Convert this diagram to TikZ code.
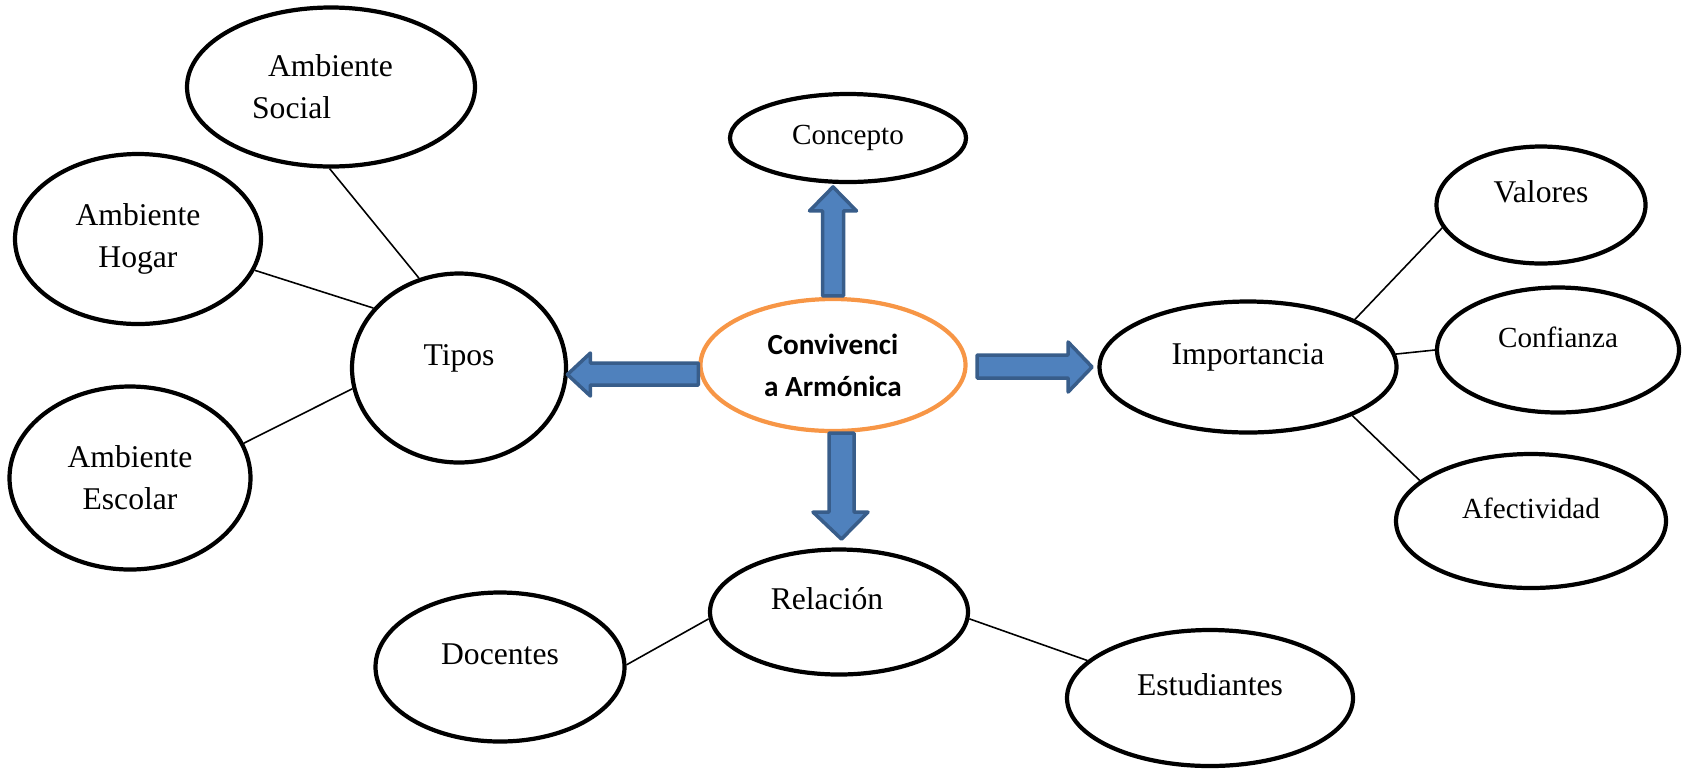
\documentclass[tikz,border=0pt]{standalone}
\usepackage{fontspec}
\setmainfont{Liberation Serif}
\newfontfamily\calibri{Carlito}
\usetikzlibrary{shapes.geometric}

\definecolor{arrowfill}{HTML}{4F81BD}
\definecolor{arrowline}{HTML}{385D8A}
\definecolor{hubline}{HTML}{F79646}

\begin{document}
\begin{tikzpicture}[
  bubble/.style={ellipse, draw=black, line width=1.2pt, inner sep=0pt,
                 font=\fontsize{9}{11.9}\selectfont},
  smalltext/.style={font=\fontsize{8.3}{11.9}\selectfont},
  toptext/.style={text height=0.21cm, text depth=0.27cm},
  link/.style={draw=black, line width=0.45pt},
  blockarrow/.style={fill=arrowfill, draw=arrowline, line width=1pt, line join=round}
]
  \useasboundingbox (0,0) rectangle (16.86,-7.70);

  % Central idea
  \node[bubble, draw=hubline, minimum width=2.65cm, minimum height=1.32cm, align=center,
        font=\calibri\bfseries\fontsize{8.3}{11.9}\selectfont]
        (conv) at (8.33,-3.65) {Convivenci\\a Armónica};

  % Tipos branch
  \node[bubble, minimum width=2.14cm, minimum height=1.89cm, toptext] (tipos) at (4.59,-3.68) {Tipos};
  \node[bubble, minimum width=2.88cm, minimum height=1.59cm, align=left] (social) at (3.31,-0.87)
        {\hspace*{0.16cm}Ambiente\hspace*{0.17cm}\\Social};
  \node[bubble, minimum width=2.46cm, minimum height=1.70cm, align=center] (hogar) at (1.38,-2.39)
        {Ambiente\\Hogar};
  \node[bubble, minimum width=2.41cm, minimum height=1.83cm, align=center] (escolar) at (1.30,-4.78)
        {Ambiente\\Escolar};

  % Concepto
  \node[bubble, smalltext, minimum width=2.36cm, minimum height=0.88cm] (concepto) at (8.48,-1.38) {Concepto};

  % Importancia branch
  \node[bubble, minimum width=2.97cm, minimum height=1.31cm, toptext] (imp) at (12.48,-3.67) {Importancia};
  \node[bubble, minimum width=2.09cm, minimum height=1.17cm, toptext] (valores) at (15.41,-2.05) {Valores};
  \node[bubble, smalltext, minimum width=2.42cm, minimum height=1.25cm, toptext] (confianza) at (15.58,-3.50) {Confianza};
  \node[bubble, smalltext, minimum width=2.70cm, minimum height=1.34cm, toptext] (afect) at (15.31,-5.21) {Afectividad};

  % Relacion branch
  \node[bubble, minimum width=2.58cm, minimum height=1.25cm, toptext] (relacion) at (8.39,-6.12)
        {Relación\hspace*{0.24cm}};
  \node[bubble, minimum width=2.49cm, minimum height=1.49cm, toptext] (docentes) at (5.00,-6.67) {Docentes};
  \node[bubble, minimum width=2.86cm, minimum height=1.36cm, toptext] (estudiantes) at (12.10,-6.98) {Estudiantes};

  % Thin links
  \draw[link] (social.269) -- (tipos.114);
  \draw[link] (hogar.345) -- (tipos.145);
  \draw[link] (escolar.17) -- (tipos.191);
  \draw[link] (imp.24) -- (valores.193);
  \draw[link] (imp.5) -- (confianza.180);
  \draw[link] (imp.-25) -- (afect.160);
  \draw[link] (docentes.1) -- (relacion.183);
  \draw[link] (relacion.357) -- (estudiantes.163);

  % Block arrows out of the centre
  \draw[blockarrow] ([xshift=-0.105cm,yshift=0.01cm]conv.north)
    -- ++(0,0.85) -- ++(-0.13,0) -- ++(0.235,0.24) -- ++(0.235,-0.24)
    -- ++(-0.13,0) -- ++(0,-0.85) -- cycle;
  \draw[blockarrow] ([yshift=0.02cm]conv.west)
    -- ++(-1.08,0) -- ++(0,0.10) -- ++(-0.23,-0.215) -- ++(0.23,-0.215)
    -- ++(0,0.11) -- ++(1.08,0) -- cycle;
  \draw[blockarrow] ([xshift=0.095cm,yshift=0.10cm]conv.east)
    -- ++(0.91,0) -- ++(0,0.13) -- ++(0.24,-0.25) -- ++(-0.24,-0.25)
    -- ++(0,0.14) -- ++(-0.91,0) -- cycle;
  \draw[blockarrow] ([xshift=-0.04cm]conv.south)
    -- ++(0,-0.79) -- ++(-0.16,0) -- ++(0.285,-0.27) -- ++(0.265,0.27)
    -- ++(-0.14,0) -- ++(0,0.79) -- cycle;
\end{tikzpicture}
\end{document}
